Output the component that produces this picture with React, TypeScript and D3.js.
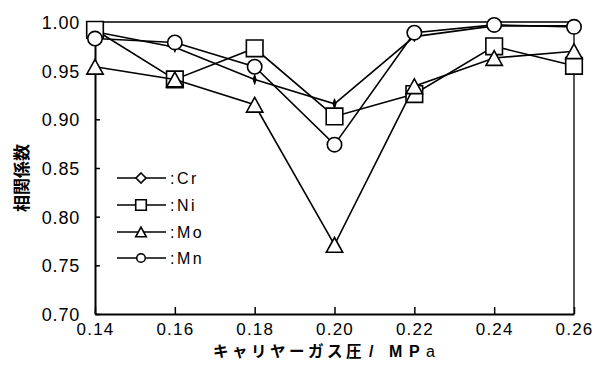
import React, { useEffect, useRef } from 'react'
import * as d3 from 'd3'

// carrier gas pressure (MPa)
const pressures = [0.14, 0.16, 0.18, 0.20, 0.22, 0.24, 0.26]

// correlation coefficients per element
const crValues = [0.990, 0.974, 0.941, 0.916, 0.985, 0.996, 0.996]
const niValues = [0.992, 0.941, 0.973, 0.903, 0.926, 0.975, 0.955]
const moValues = [0.954, 0.941, 0.915, 0.771, 0.934, 0.963, 0.970]
const mnValues = [0.983, 0.979, 0.954, 0.874, 0.989, 0.997, 0.995]

const seriesNames = ['Cr', 'Ni', 'Mo', 'Mn']
const yTicks = [0.70, 0.75, 0.80, 0.85, 0.90, 0.95, 1.00]

const W = 594
const H = 383
const margin = { top: 22, right: 20, bottom: 69, left: 95 }

const numFont = '"Liberation Sans", Arial, sans-serif'
const jpFont = '"Noto Sans CJK JP", sans-serif'

function markerPath(kind: string, x: number, y: number, s: number) {
    if (kind === 'Cr') {
        return `M${x},${y - s}L${x + s * 0.3},${y}L${x},${y + s}L${x - s * 0.3},${y}Z`
    }
    if (kind === 'CrLegend') {
        return `M${x},${y - s}L${x + s},${y}L${x},${y + s}L${x - s},${y}Z`
    }
    if (kind === 'Ni') {
        return `M${x - s},${y - s}h${2 * s}v${2 * s}h${-2 * s}Z`
    }
    // Mo: triangle
    return `M${x},${y - s * 0.9}L${x + s},${y + s * 0.9}L${x - s},${y + s * 0.9}Z`
}

function drawChart(svgEl: SVGSVGElement) {
    const svg = d3.select(svgEl)
    svg.selectAll('*').remove()

    const x = d3.scaleLinear().domain([0.14, 0.26]).range([margin.left, W - margin.right])
    const y = d3.scaleLinear().domain([0.70, 1.00]).range([H - margin.bottom, margin.top])

    // frame top + right
    svg.append('path')
        .attr('d', `M${x(0.14)},${y(1)}H${x(0.26)}V${y(0.7)}`)
        .attr('fill', 'none')
        .attr('stroke', '#000')
        .attr('stroke-width', 1.3)

    const yAxis = d3.axisLeft(y)
        .tickValues(yTicks)
        .tickFormat(d3.format('.2f'))
        .tickSize(-5)
        .tickSizeOuter(0)
        .tickPadding(15)

    const gy = svg.append('g')
        .attr('transform', `translate(${x(0.14)},0)`)
        .call(yAxis)
    gy.select('.domain').attr('stroke-width', 2)
    gy.selectAll('.tick line').attr('stroke-width', 1.5)
    gy.selectAll('.tick text')
        .attr('font-family', numFont)
        .attr('font-size', 18)
        .attr('letter-spacing', 0.8)
        .attr('fill', '#000')
        .attr('dy', '0.36em')

    const xAxis = d3.axisBottom(x)
        .tickValues(pressures)
        .tickFormat(d3.format('.2f'))
        .tickSize(-7)
        .tickSizeOuter(0)
        .tickPadding(9)

    const gx = svg.append('g')
        .attr('transform', `translate(0,${y(0.7)})`)
        .call(xAxis)
    gx.select('.domain').attr('stroke-width', 2)
    gx.selectAll('.tick line').attr('stroke-width', 1.5)
    gx.selectAll('.tick text')
        .attr('font-family', numFont)
        .attr('font-size', 17)
        .attr('letter-spacing', 1.2)
        .attr('fill', '#000')

    const allSeries = [crValues, niValues, moValues, mnValues]
    const sizes: { [k: string]: number } = { Cr: 5, Ni: 8.3, Mo: 8.2, Mn: 7.2 }

    const line = d3.line<number>()
        .x((d, i) => x(pressures[i]))
        .y(d => y(d))

    allSeries.forEach((vals, si) => {
        const name = seriesNames[si]
        const g = svg.append('g')
        g.append('path')
            .attr('d', line(vals))
            .attr('fill', 'none')
            .attr('stroke', '#000')
            .attr('stroke-width', 1.6)

        vals.forEach((v, i) => {
            const cx = x(pressures[i])
            const cy = y(v)
            if (name === 'Mn') {
                g.append('circle')
                    .attr('cx', cx).attr('cy', cy).attr('r', sizes.Mn)
                    .attr('fill', '#fff').attr('stroke', '#000').attr('stroke-width', 1.6)
            } else {
                g.append('path')
                    .attr('d', markerPath(name, cx, cy, sizes[name]))
                    .attr('fill', name === 'Cr' ? '#000' : '#fff')
                    .attr('stroke', '#000')
                    .attr('stroke-width', name === 'Cr' ? 1 : 1.6)
            }
        })
    })

    // legend
    const legendRows = [178, 205, 232, 258]
    const lx0 = 117
    const lx1 = 166
    const lmx = 141
    seriesNames.forEach((name, i) => {
        const ly = legendRows[i]
        const g = svg.append('g')
        g.append('line')
            .attr('x1', lx0).attr('x2', lx1).attr('y1', ly).attr('y2', ly)
            .attr('stroke', '#000').attr('stroke-width', 1.6)
        if (name === 'Mn') {
            g.append('circle')
                .attr('cx', lmx).attr('cy', ly).attr('r', 4.3)
                .attr('fill', '#fff').attr('stroke', '#000').attr('stroke-width', 1.6)
        } else {
            const kind = name === 'Cr' ? 'CrLegend' : name
            const s = name === 'Cr' ? 5 : 5.3
            g.append('path')
                .attr('d', markerPath(kind, lmx, ly, s))
                .attr('fill', '#fff').attr('stroke', '#000').attr('stroke-width', 1.6)
        }
        g.append('text')
            .attr('x', 170).attr('y', ly + 6)
            .attr('font-family', numFont)
            .attr('font-size', 16)
            .attr('letter-spacing', 2.5)
            .text(':' + name)
    })

    // y title
    svg.append('text')
        .attr('transform', `translate(28,${(margin.top + H - margin.bottom) / 2 + 10}) rotate(-90)`)
        .attr('text-anchor', 'middle')
        .attr('font-family', jpFont)
        .attr('font-weight', 'bold')
        .attr('font-size', 17)
        .text('相関係数')

    // x title
    const xt = svg.append('text')
        .attr('y', 357)
        .attr('font-weight', 'bold')
    xt.append('tspan')
        .attr('x', 213)
        .attr('font-family', jpFont)
        .attr('font-size', 15.5)
        .attr('letter-spacing', 3.5)
        .text('キャリヤーガス圧')
    xt.append('tspan').attr('x', 369).attr('font-family', numFont).attr('font-size', 16).text('/')
    xt.append('tspan').attr('x', 389).attr('font-family', numFont).attr('font-size', 16).text('M')
    xt.append('tspan').attr('x', 409).attr('font-family', numFont).attr('font-size', 16).text('P')
    xt.append('tspan').attr('x', 426).attr('font-family', numFont).attr('font-size', 16)
        .attr('font-weight', 'normal').text('a')
}

function App() {
    const ref = useRef<SVGSVGElement>(null)

    useEffect(() => {
        if (ref.current) drawChart(ref.current)
    }, [])

    return (
        <svg
            ref={ref}
            width={W}
            height={H}
            style={{ position: 'absolute', left: 0, top: 0, background: '#fff' }}
        />
    )
}

export default App
